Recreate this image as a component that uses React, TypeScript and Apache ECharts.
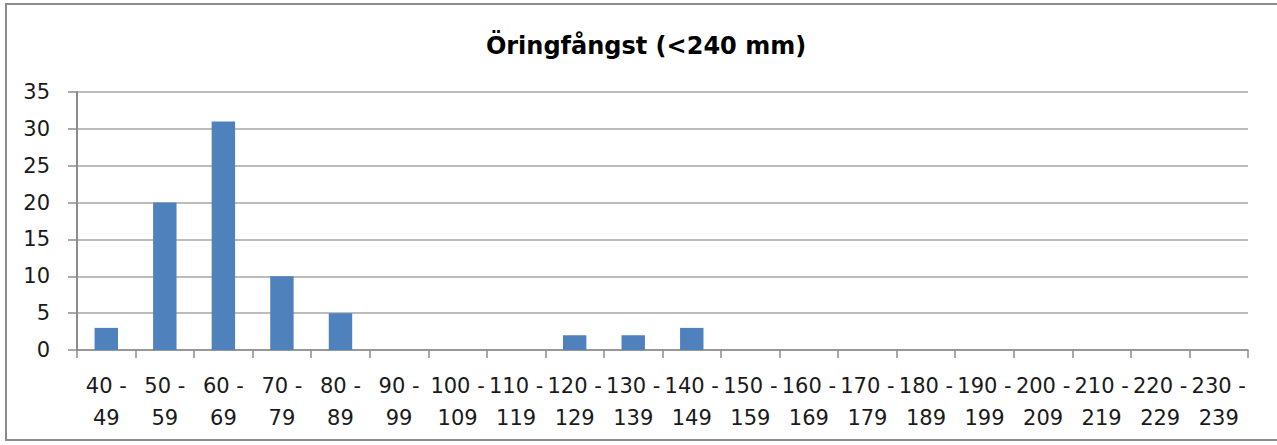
import React, { useEffect, useRef } from "react";
import * as echarts from "echarts";

const titleText = "Öringfångst (<240 mm)";
const categories = [
  "40 -\n49", "50 -\n59", "60 -\n69", "70 -\n79", "80 -\n89", "90 -\n99",
  "100 -\n109", "110 -\n119", "120 -\n129", "130 -\n139", "140 -\n149",
  "150 -\n159", "160 -\n169", "170 -\n179", "180 -\n189", "190 -\n199",
  "200 -\n209", "210 -\n219", "220 -\n229", "230 -\n239",
];
const counts = [3, 20, 31, 10, 5, 0, 0, 0, 2, 2, 3, 0, 0, 0, 0, 0, 0, 0, 0, 0];
const yMin = 0;
const yMax = 35;
const yStep = 5;

export default function App() {
  const ref = useRef<HTMLDivElement>(null);
  useEffect(() => {
    document.body.style.margin = "0";
    if (!ref.current) return;
    const chart = echarts.init(ref.current, null, { renderer: "svg" });
    chart.setOption({
      animation: false,
      backgroundColor: "#ffffff",
      title: {
        text: titleText,
        left: 641,
        textAlign: "center",
        top: 29,
        textStyle: {
          fontFamily: "DejaVu Sans",
          fontWeight: "bold",
          fontSize: 24,
          color: "#000000",
        },
      },
      graphic: [
        {
          type: "rect",
          shape: { x: 6, y: 4, width: 1290, height: 436 },
          style: { fill: "none", stroke: "#8c8c8c", lineWidth: 2 },
          silent: true,
        },
      ],
      grid: { left: 77, right: 29, top: 92, bottom: 95, containLabel: false },
      xAxis: {
        type: "category",
        data: categories,
        axisLine: { show: true, lineStyle: { color: "#8c8c8c", width: 1.5 } },
        axisTick: { show: true, length: 8, lineStyle: { color: "#8c8c8c", width: 1.5 } },
        axisLabel: {
          interval: 0,
          margin: 20,
          fontFamily: "DejaVu Sans",
          fontSize: 21,
          lineHeight: 32,
          color: "#1a1a1a",
        },
      },
      yAxis: {
        type: "value",
        min: yMin,
        max: yMax,
        interval: yStep,
        axisLine: { show: true, lineStyle: { color: "#8c8c8c", width: 2 } },
        axisTick: { show: true, length: 9, lineStyle: { color: "#8c8c8c", width: 1.5 } },
        splitLine: { show: true, lineStyle: { color: "#a6a6a6", width: 1.5 } },
        axisLabel: {
          margin: 27,
          fontFamily: "DejaVu Sans",
          fontSize: 21,
          color: "#1a1a1a",
        },
      },
      series: [
        {
          type: "bar",
          data: counts,
          barCategoryGap: "60%",
          itemStyle: { color: "#4f81bd" },
        },
      ],
    });
    return () => chart.dispose();
  }, []);
  return <div ref={ref} style={{ width: 1277, height: 445 }} />;
}
